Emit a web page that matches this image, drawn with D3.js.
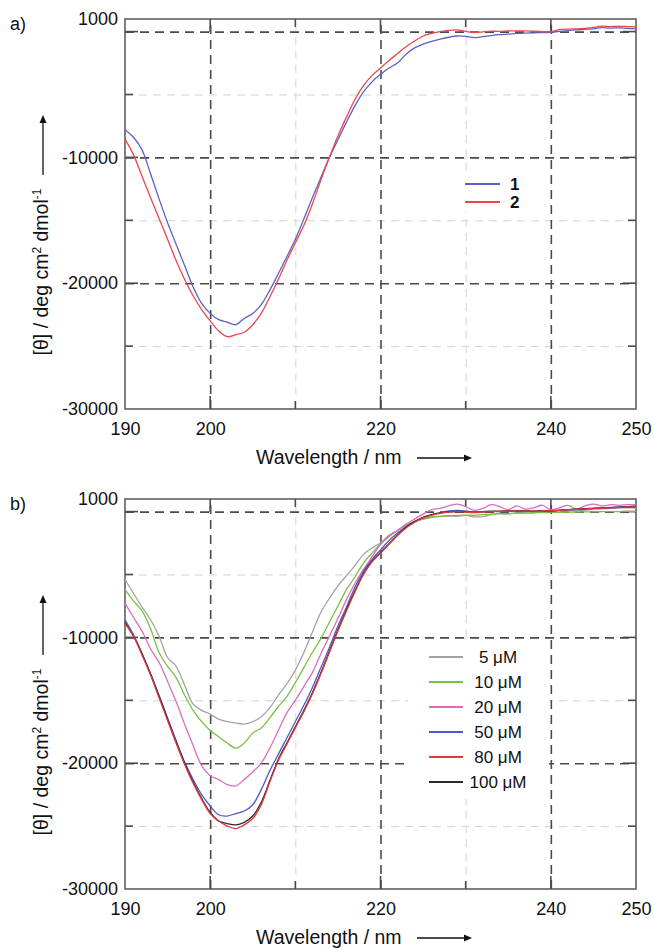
<!DOCTYPE html>
<html>
<head>
<meta charset="utf-8">
<script src="https://cdnjs.cloudflare.com/ajax/libs/d3/7.8.5/d3.min.js"></script>
<style>
body { margin: 0; background: #fff; }
svg { display: block; font-family: "Liberation Sans", Arial, sans-serif; }
</style>
</head>
<body>
<script>
const w = 654, h = 949

const wavelength = [190, 191, 192, 193, 194, 195, 196, 197, 198, 199,
    200, 201, 202, 203, 204, 205, 206, 207, 208, 209,
    210, 211, 212, 213, 214, 215, 216, 217, 218, 219,
    220, 221, 222, 223, 224, 225, 226, 227, 228, 229,
    230, 231, 232, 233, 234, 235, 236, 237, 238, 239,
    240, 241, 242, 243, 244, 245, 246, 247, 248, 249,
    250]

// panel a
const peptide1 = [-7800, -8400, -9400, -11300, -13300, -15200, -16900, -18600, -20300, -21600,
    -22400, -22900, -23100, -23300, -22800, -22400, -21700, -20550, -19250, -17900,
    -16500, -14900, -13200, -11600, -10000, -8600, -7200, -5900, -4800, -4000,
    -3400, -2900, -2500, -1800, -1300, -1000, -780, -600, -450, -350,
    -380, -480, -400, -320, -250, -200, -150, -120, -100, -80,
    -60, 20, 80, 130, 180, 220, 320, 280, 300, 250,
    220]
const peptide2 = [-8550, -9800, -11500, -13200, -14850, -16500, -18200, -19700, -21000, -22100,
    -23000, -23800, -24250, -24100, -23900, -23300, -22400, -21100, -19700, -18200,
    -16800, -15400, -13700, -11800, -10000, -8300, -6800, -5400, -4300, -3500,
    -2900, -2300, -1750, -1200, -750, -350, -150, 0, 100, 130,
    20, -80, -20, 30, 20, 60, 50, 60, 30, 0,
    -20, 150, 200, 220, 260, 330, 440, 400, 420, 400,
    380]

// panel b
const conc5 = [-5400, -6500, -7600, -8600, -9900, -11600, -12300, -13800, -15300, -15800,
    -16100, -16500, -16700, -16800, -16900, -16700, -16300, -15600, -14600, -13700,
    -12600, -11200, -9600, -8000, -6900, -5900, -5100, -4300, -3400, -2900,
    -2500, -1900, -1500, -1100, -800, -600, -450, -380, -350, -380,
    -300, -420, -400, -250, -150, -200, -100, -120, -80, -50,
    -30, 50, 80, 20, 100, 180, 220, 250, 280, 290,
    300]
const conc10 = [-6200, -7100, -7900, -9300, -11200, -12300, -13200, -14600, -15800, -16700,
    -17400, -17900, -18400, -18800, -18400, -17600, -17200, -16400, -15500, -14700,
    -13600, -12400, -11200, -10100, -8800, -7500, -6200, -5200, -4100, -3300,
    -2600, -2000, -1500, -1100, -800, -600, -450, -380, -330, -300,
    -280, -300, -250, -200, -180, -150, -130, -110, -100, -80,
    -60, -60, -50, -40, -30, -20, -10, 0, 0, 10,
    0]
const conc20 = [-7300, -8400, -9500, -10900, -12000, -13500, -15100, -16900, -18600, -20200,
    -21000, -21300, -21700, -21800, -21300, -20700, -20000, -18800, -17400, -16000,
    -15000, -13900, -12800, -11300, -9900, -8500, -7000, -5700, -4600, -3600,
    -2600, -1900, -1500, -1000, -600, -200, 150, 250, 450, 600,
    400, 100, 250, 550, 400, 150, 450, 200, 300, 500,
    150, 300, 500, 200, 450, 600, 450, 550, 500, 550,
    550]
const conc50 = [-8600, -9800, -11300, -12900, -14600, -16400, -18200, -19900, -21300, -22500,
    -23400, -24100, -24200, -24000, -23800, -23300, -22100, -20600, -19300, -18000,
    -16700, -15400, -14000, -12400, -10800, -9100, -7600, -6000, -4750, -3800,
    -3050, -2300, -1700, -1200, -800, -450, -250, -100, 50, 100,
    50, -50, 0, 30, 0, 50, 80, 50, 20, 50,
    0, 100, 150, 130, 180, 250, 300, 330, 380, 400,
    450]
const conc80 = [-8900, -9900, -11400, -13000, -14800, -16600, -18400, -20100, -21600, -22900,
    -24000, -24600, -25000, -25200, -24900, -24400, -23300, -21500, -19800, -18500,
    -17200, -15900, -14500, -12900, -11200, -9500, -7900, -6400, -5000, -4000,
    -3300, -2600, -1900, -1300, -850, -500, -300, -150, -50, 0,
    -50, -80, -30, 0, 20, 40, 50, 40, 30, 50,
    60, 100, 150, 180, 220, 250, 280, 300, 330, 350,
    370]
const conc100 = [-8800, -9900, -11300, -12900, -14700, -16500, -18300, -20000, -21500, -22800,
    -23900, -24600, -24800, -24900, -24700, -24200, -23100, -21400, -19700, -18400,
    -17100, -15800, -14400, -12800, -11100, -9400, -7800, -6300, -4950, -3950,
    -3250, -2550, -1850, -1250, -800, -450, -250, -100, -20, 20,
    -30, -60, -20, 10, 30, 50, 60, 50, 40, 60,
    70, 110, 160, 190, 230, 260, 290, 310, 340, 360,
    380]

const xLabels = [190, 200, 220, 240, 250]
const xMajor = [200, 220, 240]
const xMinor = [210, 230]
const yLabels = [1000, -10000, -20000, -30000]
const yMajor = [0, -10000, -20000]
const yMinor = [-5000, -15000, -25000]

// tiny helper like d3-selection-multi
d3.selection.prototype.attrs = function (o) {
    for (const k in o) this.attr(k, o[k])
    return this
}

const svg = d3.select('body').append('svg')
    .attr('width', w)
    .attr('height', h)

const x = d3.scaleLinear().domain([190, 250]).range([125, 636])

function grid(g, y, top, bottom, xs, ys, color, width, dash) {
    g.append('g')
        .attr('transform', `translate(0,${bottom})`)
        .call(d3.axisBottom(x).tickValues(xs).tickSize(-(bottom - top)).tickFormat(''))
        .call(s => s.select('.domain').remove())
        .selectAll('line')
        .attr('stroke', color).attr('stroke-width', width).attr('stroke-dasharray', dash)
    g.append('g')
        .attr('transform', `translate(${x.range()[0]},0)`)
        .call(d3.axisLeft(y).tickValues(ys).tickSize(-(x.range()[1] - x.range()[0])).tickFormat(''))
        .call(s => s.select('.domain').remove())
        .selectAll('line')
        .attr('stroke', color).attr('stroke-width', width).attr('stroke-dasharray', dash)
}

function ticks(g, y, top, bottom, xs, ys, len) {
    const [x0, x1] = x.range()
    xs.forEach(v => {
        g.append('line').attrs({ x1: x(v), x2: x(v), y1: bottom, y2: bottom - len })
        g.append('line').attrs({ x1: x(v), x2: x(v), y1: top, y2: top + len })
    })
    ys.forEach(v => {
        g.append('line').attrs({ x1: x0, x2: x0 + len, y1: y(v), y2: y(v) })
        g.append('line').attrs({ x1: x1, x2: x1 - len, y1: y(v), y2: y(v) })
    })
}

function arrow(g, xa, ya, xb, yb) {
    const a = Math.atan2(yb - ya, xb - xa)
    const hl = 8, hw = 3.5
    const bx = xb - Math.cos(a) * hl, by = yb - Math.sin(a) * hl
    g.append('line').attrs({ x1: xa, y1: ya, x2: bx, y2: by, stroke: '#111', 'stroke-width': 1.3 })
    g.append('path')
        .attr('d', `M${xb},${yb} L${bx - Math.sin(a) * hw},${by + Math.cos(a) * hw} L${bx + Math.sin(a) * hw},${by - Math.cos(a) * hw} Z`)
        .attr('fill', '#111')
}

function panel(top, tag, series, drawOrder, legend) {
    const bottom = top + 390
    const [x0, x1] = x.range()
    const y = d3.scaleLinear().domain([-30000, 1000]).range([bottom, top])
    const g = svg.append('g')

    grid(g, y, top, bottom, xMinor, yMinor, '#cdd5db', 1, '8,6')
    grid(g, y, top, bottom, xMajor, yMajor, '#4a4a4a', 1.6, '9,6')

    const tk = g.append('g').attr('stroke', '#4a4a4a').attr('stroke-width', 1.6)
    ticks(tk, y, top, bottom, xMajor, yMajor, 13)
    ticks(tk, y, top, bottom, xMinor, yMinor, 8)

    g.append('rect')
        .attrs({ x: x0, y: top, width: x1 - x0, height: bottom - top, fill: 'none', stroke: '#555', 'stroke-width': 1.5 })

    // legend backdrop
    g.append('rect').attrs(legend.box).attr('fill', '#fff')

    const line = d3.line()
        .x((d, i) => x(wavelength[i]))
        .y(d => y(d))
        .curve(d3.curveCatmullRom)

    drawOrder.forEach(k => {
        const s = series[k]
        g.append('path')
            .attr('d', line(s.values))
            .attr('fill', 'none')
            .attr('stroke', s.color)
            .attr('stroke-width', 1.3)
    })

    // tick labels, plain hyphen for the minus
    g.append('g')
        .attr('transform', `translate(${x0},0)`)
        .call(d3.axisLeft(y).tickValues(yLabels).tickSize(0).tickPadding(7).tickFormat(d => String(d)))
        .call(s => s.select('.domain').remove())
        .selectAll('text').style('font-size', '18px').style('font-family', 'Liberation Sans, Arial').attr('fill', '#111')
    g.append('g')
        .attr('transform', `translate(0,${bottom})`)
        .call(d3.axisBottom(x).tickValues(xLabels).tickSize(0).tickPadding(13).tickFormat(d => String(d)))
        .call(s => s.select('.domain').remove())
        .selectAll('text').style('font-size', '18px').style('font-family', 'Liberation Sans, Arial').attr('fill', '#111')

    // axis titles
    g.append('text')
        .attrs({ x: 256, y: bottom + 55, fill: '#111' })
        .style('font-size', '19.5px')
        .text('Wavelength / nm')
    arrow(g, 417, bottom + 49, 472, bottom + 49)

    const yt = g.append('text')
        .attr('transform', `translate(48,${top + 253}) rotate(-90)`)
        .attr('text-anchor', 'middle')
        .attr('fill', '#111')
        .style('font-size', '19.5px')
    yt.append('tspan').text('[θ] / deg cm')
    yt.append('tspan').attr('dy', -7).style('font-size', '12px').text('2')
    yt.append('tspan').attr('dy', 7).text(' dmol')
    yt.append('tspan').attr('dy', -7).style('font-size', '12px').text('-1')
    arrow(g, 43, top + 156, 43, top + 96)

    g.append('text')
        .attrs({ x: 10, y: top + 11, fill: '#111' })
        .style('font-size', '18px')
        .text(tag)

    // legend
    series.forEach((s, i) => {
        const ly = legend.y + i * legend.step
        g.append('line').attrs({ x1: legend.x1, x2: legend.x2, y1: ly, y2: ly, stroke: s.color, 'stroke-width': 2 })
        g.append('text')
            .attrs({ x: legend.tx, y: ly, dy: '0.35em', 'text-anchor': legend.anchor, fill: '#111' })
            .style('font-size', legend.size)
            .style('font-weight', legend.weight)
            .text(s.label)
    })
}

panel(19, 'a)', [
    { label: '1', color: '#5d62c4', values: peptide1 },
    { label: '2', color: '#ea474c', values: peptide2 }
], [0, 1], { box: { x: 455, y: 172, width: 75, height: 40 }, x1: 465, x2: 500, tx: 510, y: 184, step: 18, anchor: 'start', size: '17px', weight: 'bold' })

panel(499, 'b)', [
    { label: '5 μM', color: '#a3a3a3', values: conc5 },
    { label: '10 μM', color: '#78c143', values: conc10 },
    { label: '20 μM', color: '#dc6cc0', values: conc20 },
    { label: '50 μM', color: '#4d5bc6', values: conc50 },
    { label: '80 μM', color: '#e2363a', values: conc80 },
    { label: '100 μM', color: '#2b2b2b', values: conc100 }
], [0, 1, 2, 3, 5, 4], { box: { x: 408, y: 641, width: 141, height: 158 }, x1: 429, x2: 463, tx: 498, y: 657, step: 25, anchor: 'middle', size: '17px', weight: 'normal' })
</script>
</body>
</html>
